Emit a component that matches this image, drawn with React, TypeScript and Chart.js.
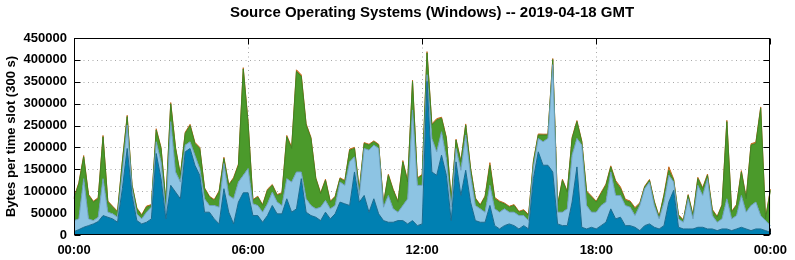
import React, { useEffect, useRef } from "react";
import { Chart, registerables } from "chart.js";

Chart.register(...registerables);

const chartTitle = "Source Operating Systems (Windows) -- 2019-04-18 GMT";
const yAxisTitle = "Bytes per time slot (300 s)";
const xTickLabels = ["00:00", "06:00", "12:00", "18:00", "00:00"];
const yTickValues = [0, 50000, 100000, 150000, 200000, 250000, 300000, 350000, 400000, 450000];
const slotsPerLabel = 36; // 10-minute slots between labelled ticks (6 h)

// 10-minute time slots 00:00 .. 24:00
const timeSlots: string[] = Array.from({ length: 145 }, (_, i) => {
  const m = i * 10;
  const h = Math.floor(m / 60) % 24;
  const mm = m % 60;
  return `${String(h).padStart(2, "0")}:${String(mm).padStart(2, "0")}`;
});

const darkBlue = [
  7700, 12300, 17600, 21400, 25300, 30600, 44400, 40600, 36800, 29100,
  105700, 197600, 90400, 32900, 25300, 29100, 36800, 186100, 128700, 36800,
  113400, 98000, 82700, 190000, 197600, 159300, 136300, 52100, 52100, 36800,
  25300, 105700, 52100, 25300, 75100, 96500, 96500, 44400, 44400, 29100,
  44400, 67400, 48300, 48300, 82700, 52100, 59700, 128700, 52100, 44400,
  40600, 32900, 52100, 36800, 48300, 75100, 71200, 67400, 144000, 75100,
  90400, 52100, 82700, 48300, 32900, 29100, 29100, 32900, 32900, 25300,
  32900, 21400, 25300, 350800, 144000, 136300, 182300, 136300, 32900, 167000,
  90400, 147800, 75100, 32900, 29100, 29100, 67400, 21400, 13800, 21400,
  25300, 21400, 13800, 21400, 13800, 128700, 190000, 159300, 159300, 144000,
  25300, 21400, 21400, 75100, 155500, 17600, 13800, 17600, 13800, 21400,
  29100, 59700, 36800, 40600, 21400, 21400, 17600, 10000, 21400, 25300,
  17600, 13800, 21400, 75100, 101900, 17600, 13800, 13800, 13800, 17600,
  17600, 13800, 13800, 10000, 13800, 13800, 10000, 13800, 17600, 13800,
  10000, 13800, 13800, 10000, 6100,
];

const lightBlue = [
  25200, 24500, 111100, 15400, 7600, 10000, 84300, 11500, 11500, 11500,
  38300, 53600, 15300, 15400, 11500, 23000, 26800, 26900, 38300, 15300,
  145500, 46000, 38300, 15300, 15400, 23000, 15400, 30600, 15300, 30600,
  38300, 57500, 38300, 57400, 45900, 39800, 55200, 26800, 23000, 23000,
  26800, 30600, 26800, 19100, 46000, 68900, 84300, 15300, 30600, 23000,
  19100, 30700, 26800, 22900, 19100, 45900, 42200, 99600, 34500, 15300,
  107200, 141700, 122600, 149300, 30700, 61300, 30600, 19200, 34500, 57400,
  252800, 92000, 88100, 15300, 76600, 53700, 53600, 38300, 30700, 30600,
  57400, 80500, 61200, 34500, 30600, 23000, 46000, 38300, 38300, 38300,
  26800, 30700, 30600, 23000, 19100, 26800, 30600, 53700, 61300, 245100,
  26800, 30700, 38300, 107200, 65100, 187700, 53600, 34500, 38300, 46000,
  46000, 84300, 53600, 49800, 46000, 42200, 26800, 57400, 84300, 95700,
  49800, 23000, 53700, 61200, 19100, 19200, 15300, 68900, 23000, 95800,
  72800, 114900, 30600, 19100, 23000, 68900, 26800, 30600, 72800, 38300,
  57400, 61300, 30600, 22900, 15300,
];

const green = [
  49800, 80400, 49800, 53600, 42200, 42100, 95700, 23000, 15300, 11500,
  23000, 19200, 7700, 11400, 7600, 11500, 3800, 26800, 30600, 23000,
  40600, 53600, 15300, 26800, 36700, 26800, 45900, 23000, 19200, 11500,
  34400, 11400, 23000, 46000, 38300, 242900, 103400, 7700, 19200, 15300,
  30700, 15400, 15300, 26800, 95700, 76600, 229800, 218300, 168500, 153200,
  69000, 30600, 46000, 15400, 19200, 7700, 9200, 26800, 19100, 11500,
  11500, 11500, 7700, 7700, 7600, 45900, 42200, 23000, 99600, 38300,
  65100, 15300, 22900, 49800, 30600, 72700, 30700, 46000, 15300, 19200,
  19200, 22900, 15400, 15300, 7700, 34500, 45900, 23000, 23000, 11500,
  11500, 15300, 7700, 11500, 11500, 11500, 7700, 15300, 7700, 11500,
  15300, 72800, 38300, 38300, 38300, 7700, 30600, 34500, 23000, 26800,
  38300, 11500, 30600, 15300, 11500, 11500, 15300, 3800, 3800, 3900,
  7700, 3800, 15300, 11500, 3900, 7600, 3800, 7700, 7600, 15300,
  15300, 7600, 11500, 11500, 30600, 176200, 15300, 23000, 53600, 30600,
  137900, 134000, 245100, 3800, 80500,
];

const other = [
  3000, 2500, 3000, 2500, 2000, 2500, 3000, 2500, 2000, 2000,
  2500, 3000, 2000, 2000, 2000, 2500, 2000, 3000, 2500, 2000,
  3000, 2500, 2000, 2500, 3000, 2500, 2500, 2000, 2000, 2000,
  2500, 3000, 2000, 2500, 2500, 3000, 3000, 2000, 2000, 2000,
  2500, 2000, 2000, 2500, 3000, 3000, 3500, 3500, 3000, 2500,
  2000, 2000, 2500, 2000, 2000, 2000, 2000, 2500, 2500, 2000,
  2000, 2000, 2000, 2000, 2000, 2500, 2500, 2000, 3000, 2500,
  3000, 2000, 2000, 3000, 2500, 3000, 2500, 2500, 2000, 2000,
  2000, 2500, 2000, 2000, 2000, 2500, 6000, 3000, 2500, 2000,
  2000, 2000, 2000, 2000, 2000, 2500, 2500, 2000, 2000, 2500,
  2000, 2500, 2000, 2500, 2500, 2000, 2500, 2500, 2000, 3000,
  3000, 2500, 3500, 4000, 3000, 2500, 3000, 2500, 2000, 2000,
  2000, 2000, 2500, 8000, 3000, 2000, 2000, 2000, 2000, 3000,
  2500, 3000, 2500, 2000, 2000, 3000, 2000, 2500, 3000, 2500,
  3000, 3000, 3000, 2000, 3000,
];

const FONT = '"Liberation Sans", Arial, Helvetica, sans-serif';

const gnuplotFrame = {
  id: "gnuplotFrame",
  beforeDatasetsDraw(chart: any) {
    const { ctx, chartArea: a, scales } = chart;
    const x = scales.x;
    const y = scales.y;
    const L = Math.round(a.left) + 0.5;
    const R = Math.round(a.right) - 0.5;
    const T = Math.round(a.top) + 0.5;
    const B = Math.round(a.bottom) - 0.5;
    ctx.save();
    ctx.lineWidth = 1;
    ctx.strokeStyle = "#a8a8a8";
    ctx.setLineDash([1, 3.5]);
    yTickValues.forEach((v) => {
      if (v === 0 || v === 450000) return;
      const py = Math.round(y.getPixelForValue(v)) + 0.5;
      ctx.beginPath();
      ctx.moveTo(L, py);
      ctx.lineTo(R, py);
      ctx.stroke();
    });
    for (let k = 1; k < xTickLabels.length - 1; k++) {
      const px = Math.round(x.getPixelForValue(k * slotsPerLabel)) + 0.5;
      ctx.beginPath();
      ctx.moveTo(px, T);
      ctx.lineTo(px, B);
      ctx.stroke();
    }
    ctx.setLineDash([]);
    ctx.strokeStyle = "#000";
    const tl = 6;
    yTickValues.forEach((v) => {
      const py = Math.round(y.getPixelForValue(v)) + 0.5;
      ctx.beginPath();
      ctx.moveTo(L, py);
      ctx.lineTo(L + tl, py);
      ctx.moveTo(R, py);
      ctx.lineTo(R - tl, py);
      ctx.stroke();
    });
    for (let k = 0; k < xTickLabels.length; k++) {
      const px = Math.round(x.getPixelForValue(k * slotsPerLabel)) + 0.5;
      ctx.beginPath();
      ctx.moveTo(px, T);
      ctx.lineTo(px, T + tl);
      ctx.moveTo(px, B);
      ctx.lineTo(px, B - tl);
      ctx.stroke();
    }
    ctx.restore();
  },
  afterDatasetsDraw(chart: any) {
    const { ctx, chartArea: a } = chart;
    const L = Math.round(a.left) + 0.5;
    const R = Math.round(a.right) - 0.5;
    const T = Math.round(a.top) + 0.5;
    const B = Math.round(a.bottom) - 0.5;
    ctx.save();
    ctx.strokeStyle = "#000";
    ctx.lineWidth = 1;
    ctx.strokeRect(L, T, R - L, B - T);
    ctx.fillStyle = "#000";
    ctx.font = `bold 15px ${FONT}`;
    ctx.textAlign = "center";
    ctx.textBaseline = "middle";
    ctx.fillText(chartTitle, 432, 13);
    ctx.restore();
  },
};

export default function App() {
  const canvasRef = useRef<HTMLCanvasElement | null>(null);

  useEffect(() => {
    if (!canvasRef.current) return;
    const tickFont = { family: FONT, size: 13, weight: "bold" as const };
    const chart = new Chart(canvasRef.current, {
      type: "line",
      data: {
        labels: timeSlots,
        datasets: [
          {
            label: "Windows (a)",
            data: darkBlue,
            backgroundColor: "#0080b2",
            borderColor: "#1b6b8f",
            fill: "origin",
          },
          {
            label: "Windows (b)",
            data: lightBlue,
            backgroundColor: "#8dc4e3",
            borderColor: "#6d9fbd",
            fill: "-1",
          },
          {
            label: "Windows (c)",
            data: green,
            backgroundColor: "#4b9a2b",
            borderColor: "#3f8424",
            fill: "-1",
          },
          {
            label: "Other",
            data: other,
            backgroundColor: "#d9822b",
            borderColor: "#c06a20",
            fill: "-1",
          },
        ],
      },
      options: {
        responsive: false,
        animation: false,
        devicePixelRatio: 1,
        layout: { padding: { top: 38, right: 20, left: 0, bottom: 0 } },
        elements: {
          point: { radius: 0, hoverRadius: 0 },
          line: { tension: 0, borderWidth: 1 },
        },
        plugins: {
          legend: { display: false },
          tooltip: { enabled: false },
          title: { display: false },
        },
        scales: {
          x: {
            type: "category",
            stacked: true,
            offset: false,
            grid: { display: false, drawTicks: false, tickLength: 0 },
            border: { display: false },
            ticks: {
              autoSkip: false,
              maxRotation: 0,
              minRotation: 0,
              padding: 8,
              color: "#000",
              font: tickFont,
              callback: (_v: any, i: number) =>
                i % slotsPerLabel === 0 ? xTickLabels[i / slotsPerLabel] : null,
            },
            afterFit: (s: any) => {
              s.height = 25;
            },
          },
          y: {
            stacked: true,
            min: 0,
            max: 450000,
            grid: { display: false, drawTicks: false, tickLength: 0 },
            border: { display: false },
            ticks: {
              stepSize: 50000,
              padding: 7,
              color: "#000",
              font: tickFont,
              callback: (v: any) => String(v),
            },
            title: {
              display: true,
              text: yAxisTitle,
              color: "#000",
              font: { family: FONT, size: 13, weight: "bold" },
              padding: { top: 4, bottom: 0 },
            },
            afterFit: (s: any) => {
              s.width = 74;
            },
          },
        },
      },
      plugins: [gnuplotFrame],
    });
    return () => chart.destroy();
  }, []);

  return (
    <div style={{ position: "fixed", left: 0, top: 0, width: 795, height: 260, background: "#fff" }}>
      <canvas ref={canvasRef} width={795} height={260} style={{ display: "block" }} />
    </div>
  );
}
